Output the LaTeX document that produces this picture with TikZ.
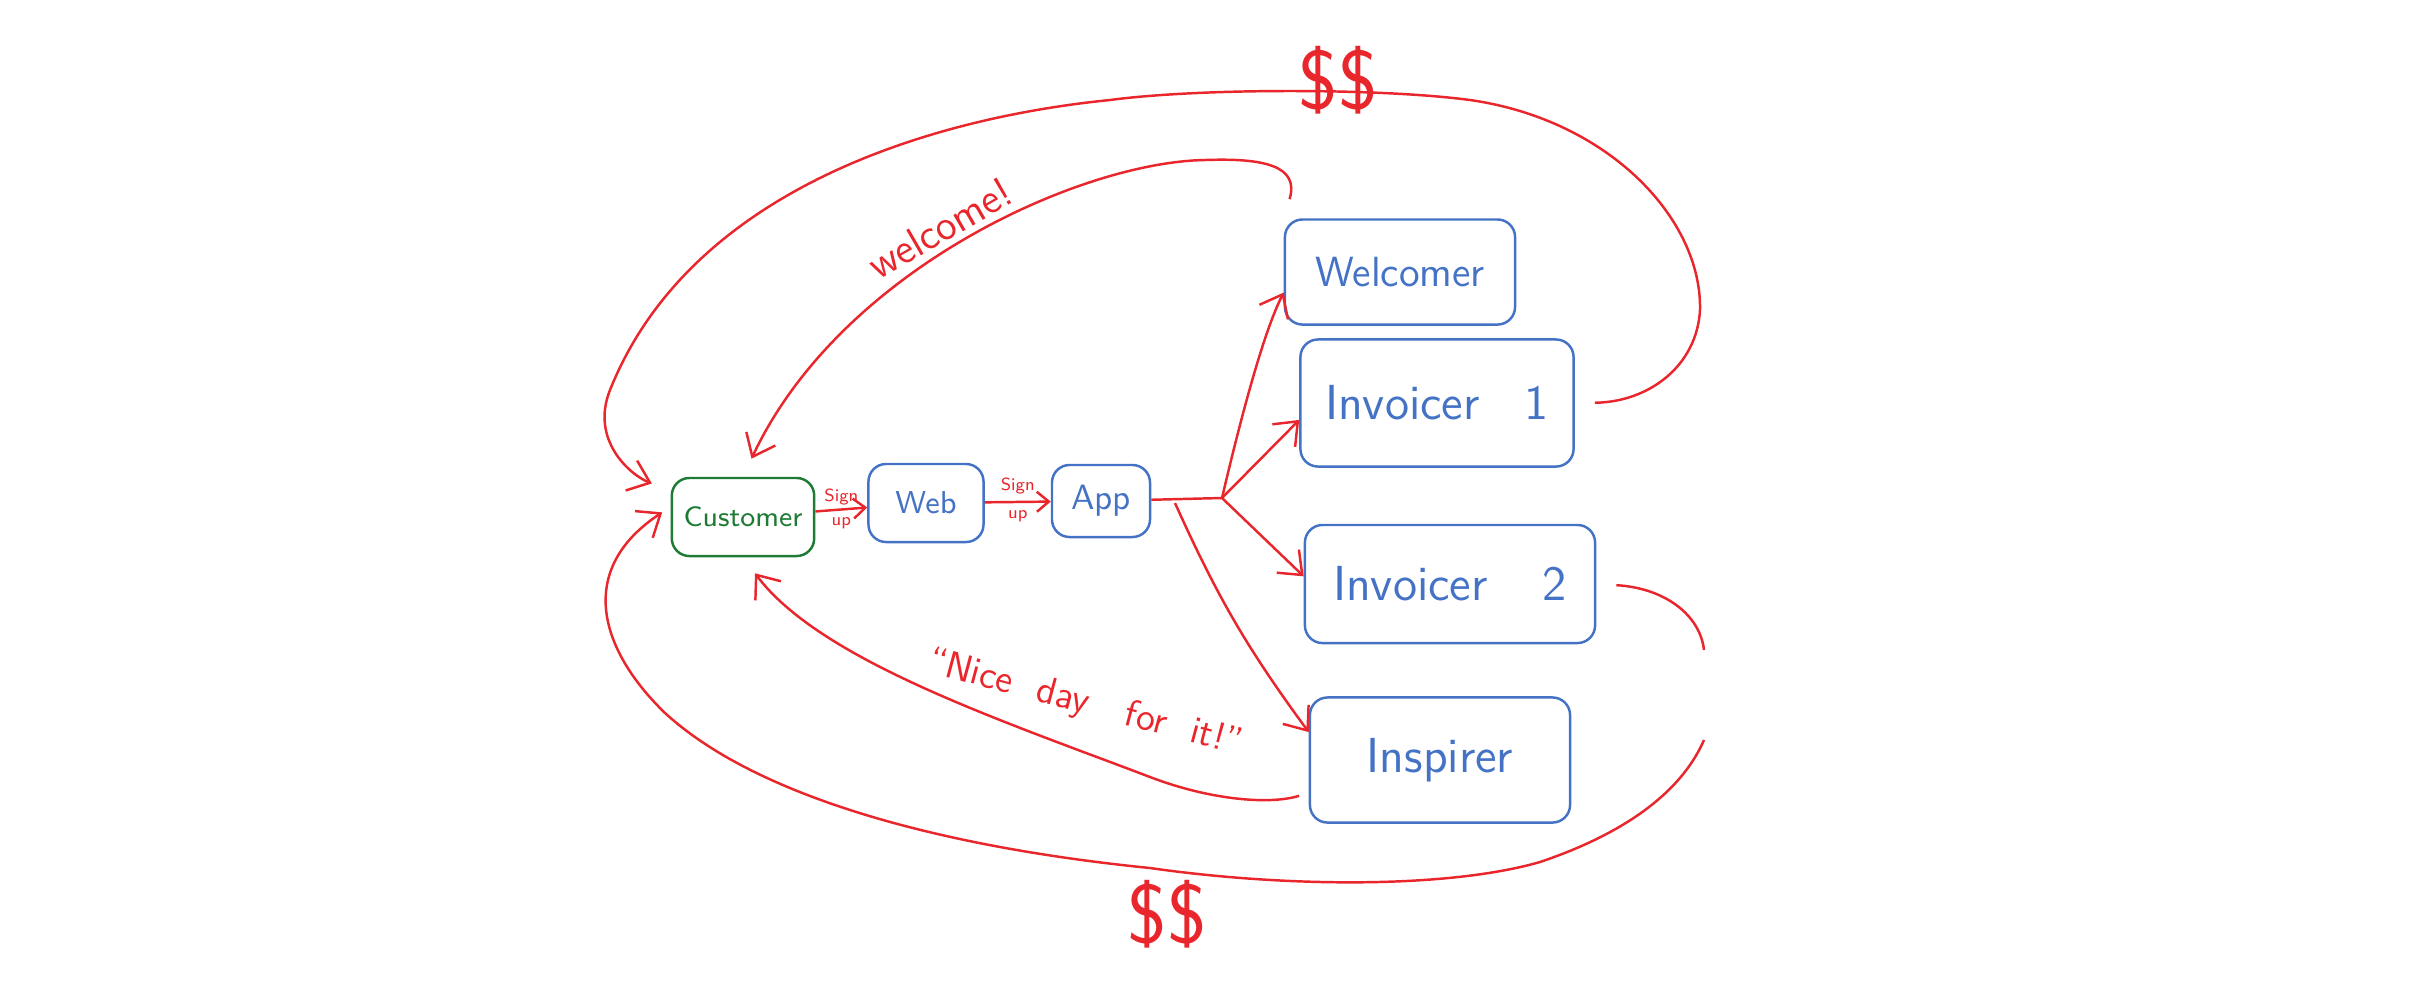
\documentclass[tikz,border=0pt]{standalone}
\usepackage{tikz}
\usetikzlibrary{arrows.meta}

\begin{document}
\begin{tikzpicture}[x=0.01cm, y=-0.01cm, >={Straight Barb[length=2mm,width=3.2mm]},
    box/.style={draw=blueink, text=blueink, rounded corners=5pt, line width=0.7pt},
    wire/.style={draw=redink, line width=0.7pt},
    note/.style={text=redink, inner sep=0pt}]
        % Define the colors
        \definecolor{redink}{HTML}{E8262C}
        \definecolor{blueink}{HTML}{4472C4}
        \definecolor{greenink}{HTML}{1E7B34}

        \useasboundingbox (0,0) rectangle (2414,996);

        % Draw the boxes of the sign up chain
        \node[box, draw=greenink, text=greenink, minimum width=1.35cm, minimum height=0.78cm, font=\sffamily\fontsize{8}{8}\selectfont] (Customer) at (743,517) {Customer};
        \node[box, minimum width=1.15cm, minimum height=0.78cm, font=\sffamily\fontsize{9}{9}\selectfont] (Web) at (926,503) {Web};
        \node[box, minimum width=0.98cm, minimum height=0.72cm, font=\sffamily\fontsize{10}{10}\selectfont] (App) at (1101,501) {App};

        % Draw the worker boxes (right column)
        \node[box, minimum width=2.3cm, minimum height=1.05cm, font=\sffamily\fontsize{12}{12}\selectfont] (Welcomer) at (1400,272) {Welcomer};
        \node[box, minimum width=2.73cm, minimum height=1.27cm, font=\sffamily\fontsize{14}{14}\selectfont] (Invoicer1) at (1437,403) {Invoicer\hspace{0.45cm}1};
        \node[box, minimum width=2.9cm, minimum height=1.18cm, font=\sffamily\fontsize{14}{14}\selectfont] (Invoicer2) at (1450,584) {Invoicer\hspace{0.55cm}2};
        \node[box, minimum width=2.6cm, minimum height=1.25cm, font=\sffamily\fontsize{14}{14}\selectfont] (Inspirer) at (1440,760) {Inspirer};

        % Draw the sign up arrows
        \draw[wire, ->, >={Straight Barb[length=1.2mm,width=2mm]}] (Customer) -- node[note, above=1pt, font=\sffamily\fontsize{5}{5}\selectfont] (SignA) {Sign} node[note, below=2pt, font=\sffamily\fontsize{5}{5}\selectfont] (UpA) {up} (Web);
        \draw[wire, ->, >={Straight Barb[length=1.2mm,width=2mm]}] (Web) -- node[note, above=2pt, font=\sffamily\fontsize{5}{5}\selectfont] (SignB) {Sign} node[note, below=2pt, font=\sffamily\fontsize{5}{5}\selectfont] (UpB) {up} (App);

        % Draw the arrows from App to the workers
        \coordinate (Fork) at (1175,503);
        \coordinate (Split) at (1222,498);
        \draw[wire] (App) -- (Split);
        \draw[wire, ->] (Split) .. controls (1238,430) and (1262,335) .. (Welcomer.190);
        \draw[wire, ->] (Split) -- (Invoicer1.187);
        \draw[wire, ->] (Split) -- (Invoicer2.177);
        \draw[wire, ->] (Fork) to[bend right=6] (Inspirer.168);

        % Draw the arrows back to the Customer
        \draw[wire, ->, shorten <=2mm, shorten >=2mm] (Welcomer.north west) .. controls (1300,165) and (1262,158) .. (1205,160) .. controls (1080,162) and (840,270) .. (Customer.north);
        \draw[wire, ->, shorten <=1mm, shorten >=2mm] (Inspirer.194) .. controls (1270,805) and (1210,800) .. (1150,777) .. controls (1000,720) and (820,660) .. (Customer.south);
        \node[note, rotate=30, font=\sffamily\fontsize{12}{12}\selectfont] (WelcomeTxt) at (940,228) {welcome!};
        \node[note, rotate=-15, font=\sffamily\fontsize{11}{11}\selectfont] (NiceTxt) at (1085,704) {``Nice\ \ day\ \ \ for\ \ it!''};

        % Draw the $$ loops
        \draw[wire, ->, shorten <=2mm, shorten >=2mm] (Invoicer1.east) .. controls (1650,402) and (1697,365) .. (1700,310) .. controls (1702,220) and (1610,120) .. (1470,100) .. controls (1380,88) and (1200,88) .. (1110,100) .. controls (930,118) and (690,190) .. (610,390) .. controls (590,440) and (630,475) .. (Customer.160);
        \coordinate (GapTop) at (1704,650);
        \coordinate (GapBot) at (1704,740);
        \draw[wire, shorten <=2mm] (Invoicer2.east) .. controls (1665,588) and (1700,615) .. (GapTop);
        \draw[wire, ->, shorten >=1mm] (GapBot) .. controls (1680,795) and (1620,835) .. (1540,862) .. controls (1450,888) and (1290,888) .. (1150,868) .. controls (950,848) and (760,800) .. (665,713) .. controls (600,650) and (575,570) .. (Customer.172);
        \node[note, font=\sffamily\fontsize{24}{24}\selectfont] (TopCash) at (1338,80) {\$\$};
        \node[note, font=\sffamily\fontsize{24}{24}\selectfont] (BotCash) at (1167,914) {\$\$};
\end{tikzpicture}
\end{document}
